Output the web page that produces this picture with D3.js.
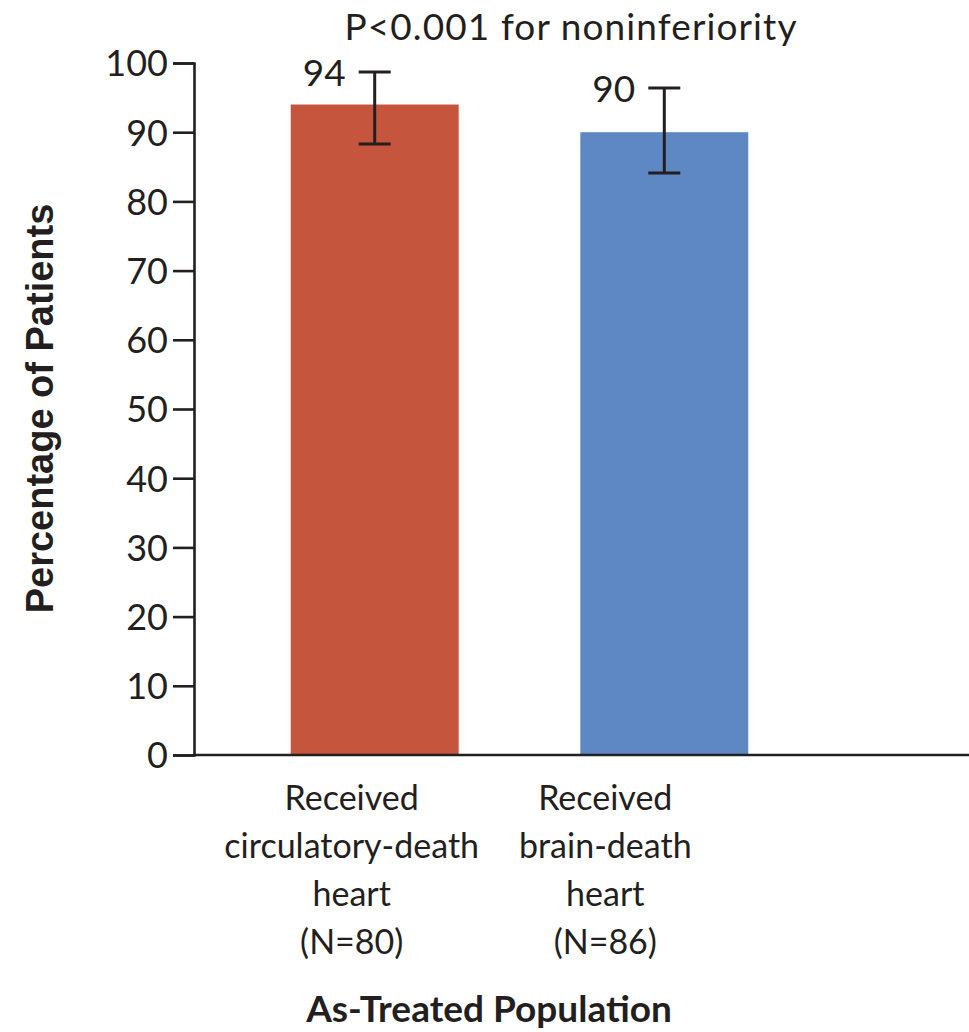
<!DOCTYPE html>
<html>
<head>
<meta charset="utf-8">
<script src="https://cdn.jsdelivr.net/npm/d3@7"></script>
<style>
  html, body { margin: 0; padding: 0; background: #fff; }
  svg { display: block; }
</style>
</head>
<body>
<svg id="chart" width="969" height="1032"></svg>
<script>
// Share of patients, by heart donor type (as-treated population)
const categories = ["dcd", "dbd"];
const categoryLabels = [
  ["Received", "circulatory-death", "heart", "(N=80)"],
  ["Received", "brain-death", "heart", "(N=86)"]
];
const percentages = [94, 90];
const ciLower = [88.3, 84.1];
const ciUpper = [98.7, 96.4];
const valueLabels = ["94", "90"];
const yTicks = [0, 10, 20, 30, 40, 50, 60, 70, 80, 90, 100];
const barColors = ["#C5553D", "#5E88C4"];

const svg = d3.select("#chart");
const ink = "#231F20";
const font = "Lato, 'Open Sans', sans-serif";

const axisX = 194, baseY = 755, topY = 63, axisEnd = 969;

const y = d3.scaleLinear().domain([0, 100]).range([baseY, topY]);
const x = d3.scaleBand().domain(categories).range([axisX, 845])
  .paddingInner(0.42).paddingOuter(0.334);

// Bars
svg.append("g").selectAll("rect")
  .data(categories)
  .join("rect")
  .attr("x", d => x(d))
  .attr("width", x.bandwidth())
  .attr("y", (d, i) => y(percentages[i]))
  .attr("height", (d, i) => y(0) - y(percentages[i]))
  .attr("fill", (d, i) => barColors[i]);

// Y axis
const yAxis = d3.axisLeft(y).tickValues(yTicks).tickSize(21).tickPadding(5);
const gy = svg.append("g").attr("transform", `translate(${axisX},0)`).call(yAxis);
gy.select(".domain").attr("stroke", ink).attr("stroke-width", 2.6);
gy.selectAll(".tick line").attr("stroke", ink).attr("stroke-width", 2.6);
gy.selectAll(".tick text")
  .attr("fill", ink)
  .attr("font-family", font)
  .attr("font-size", 36)
  .attr("dy", "0.36em");

// Baseline (x axis)
svg.append("line")
  .attr("x1", axisX).attr("x2", axisEnd)
  .attr("y1", y(0)).attr("y2", y(0))
  .attr("stroke", ink).attr("stroke-width", 2.6);

// Confidence-interval whiskers
const capHalf = 16;
const whiskers = svg.append("g").attr("stroke", ink).attr("stroke-width", 3).attr("fill", "none");
categories.forEach((c, i) => {
  const cx = x(c) + x.bandwidth() / 2;
  whiskers.append("line").attr("x1", cx).attr("x2", cx).attr("y1", y(ciUpper[i])).attr("y2", y(ciLower[i]));
  whiskers.append("line").attr("x1", cx - capHalf).attr("x2", cx + capHalf).attr("y1", y(ciUpper[i])).attr("y2", y(ciUpper[i]));
  whiskers.append("line").attr("x1", cx - capHalf).attr("x2", cx + capHalf).attr("y1", y(ciLower[i])).attr("y2", y(ciLower[i]));
});

// Value labels beside the upper whisker cap
svg.append("g").selectAll("text")
  .data(categories)
  .join("text")
  .attr("x", d => x(d) + x.bandwidth() / 2 - capHalf - 13)
  .attr("y", (d, i) => y(ciUpper[i]) + 14)
  .attr("text-anchor", "end")
  .attr("font-family", font)
  .attr("font-size", 37)
  .attr("fill", ink)
  .text((d, i) => valueLabels[i]);

// Category labels under the axis
const labelShift = [-23, -59];
const lineGap = 48;
categories.forEach((c, i) => {
  const t = svg.append("text")
    .attr("text-anchor", "middle")
    .attr("font-family", font)
    .attr("font-size", 34)
    .attr("fill", ink);
  categoryLabels[i].forEach((line, k) => {
    t.append("tspan")
      .attr("x", x(c) + x.bandwidth() / 2 + labelShift[i])
      .attr("y", 810 + k * lineGap)
      .text(line);
  });
});

// Title
svg.append("text")
  .attr("x", 571).attr("y", 40)
  .attr("text-anchor", "middle")
  .attr("font-family", font)
  .attr("font-size", 37)
  .attr("letter-spacing", 1.1)
  .attr("fill", ink)
  .text("P<0.001 for noninferiority");

// Y axis title
svg.append("text")
  .attr("transform", `translate(53,${(200 + 617) / 2}) rotate(-90)`)
  .attr("text-anchor", "middle")
  .attr("font-family", "'Liberation Sans', Arial, sans-serif")
  .attr("font-weight", "bold")
  .attr("font-size", 38)
  .attr("fill", ink)
  .text("Percentage of Patients");

// X axis title
svg.append("text")
  .attr("x", 489).attr("y", 1022)
  .attr("text-anchor", "middle")
  .attr("font-family", font)
  .attr("font-weight", "bold")
  .attr("font-size", 37)
  .attr("fill", ink)
  .text("As-Treated Population");
</script>
</body>
</html>
